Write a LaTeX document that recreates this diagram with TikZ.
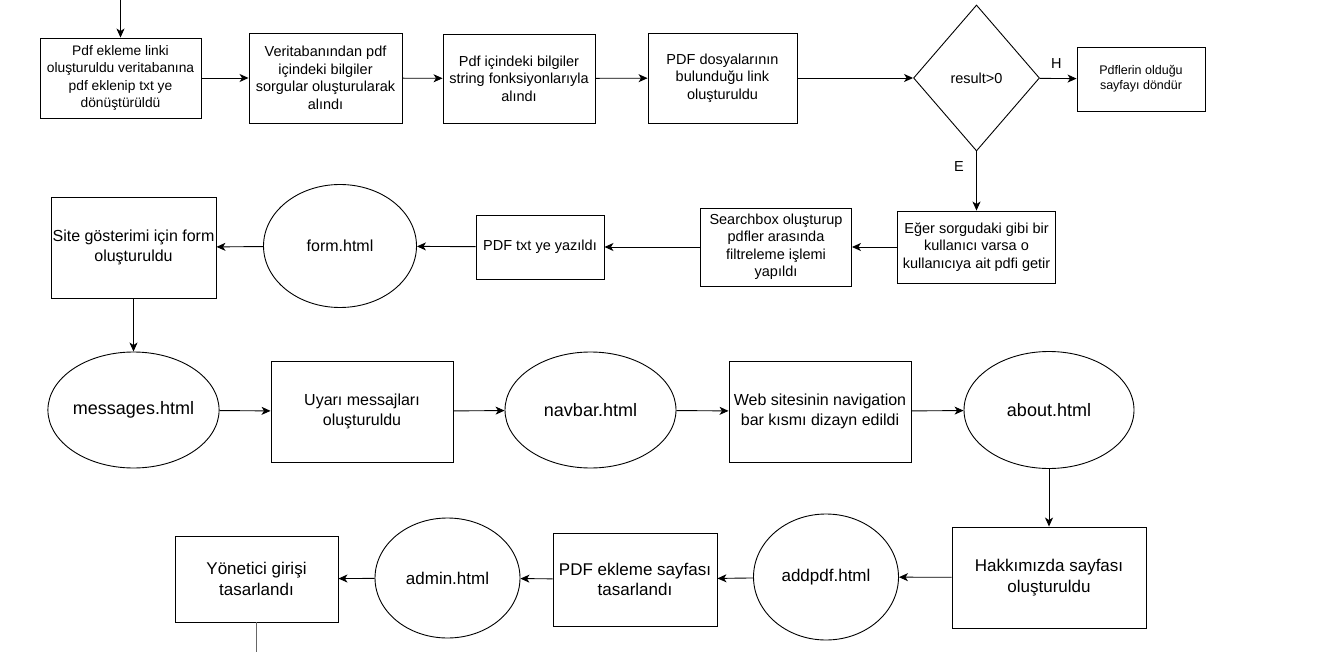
\documentclass[tikz,border=0pt]{standalone}
\usepackage{fontspec}
\setmainfont{Liberation Sans}
\usetikzlibrary{arrows.meta, positioning, shapes.geometric}

\begin{document}
\begin{tikzpicture}[
   x=1pt, y=-1pt,
   -{Stealth[length=9pt, width=8pt, inset=2.5pt]},
   line width=0.9pt,
   box/.style = {draw, rectangle, align=center, inner sep=0pt},
   page/.style = {draw, ellipse, align=center, inner sep=0pt},
   cond/.style = {draw, diamond, align=center, inner sep=0pt},
   fsmall/.style = {font=\fontsize{12.5}{15}\selectfont},
   fnarrow/.style = {font=\fontsize{13.8}{17.5}\selectfont},
   frow/.style = {font=\fontsize{14.5}{17.5}\selectfont},
   fmid/.style = {font=\fontsize{16}{19.5}\selectfont},
   fbig/.style = {font=\fontsize{17}{20.5}\selectfont},
   fhtml/.style = {font=\fontsize{18}{21.5}\selectfont}]
   \useasboundingbox (0,0) rectangle (1319,652);

   \coordinate (top) at (120.5,0);
   \node[box, fnarrow, minimum width=161, minimum height=80] (ekle) at (120.5,78) {Pdf ekleme linki\\oluşturuldu veritabanına\\pdf eklenip txt ye\\dönüştürüldü};
   \node[box, frow, minimum width=153, minimum height=90] (veri) at (325.5,78) {Veritabanından pdf\\içindeki bilgiler\\sorgular oluşturularak\\alındı};
   \node[box, frow, minimum width=152, minimum height=89] (string) at (519,78.5) {Pdf içindeki bilgiler\\string fonksiyonlarıyla\\alındı};
   \node[box, frow, minimum width=149, minimum height=90] (link) at (722.5,78) {PDF dosyalarının\\bulunduğu link\\oluşturuldu};
   \node[cond, frow, minimum width=126, minimum height=146] (result) at (976.5,78) {result>0};
   \node[box, fsmall, minimum width=128, minimum height=64] (donder) at (1141,79) {Pdflerin olduğu\\sayfayı döndür};

   \node[box, frow, minimum width=158, minimum height=72] (getir) at (976.5,247) {Eğer sorgudaki gibi bir\\kullanıcı varsa o\\kullanıcıya ait pdfi getir};
   \node[box, frow, minimum width=151, minimum height=78] (search) at (776,247) {Searchbox oluşturup\\pdfler arasında\\filtreleme işlemi\\yapıldı};
   \node[box, frow, minimum width=128, minimum height=64] (yaz) at (540,247) {PDF txt ye yazıldı};
   \node[page, fmid, minimum width=153, minimum height=123] (formh) at (340,246) {form.html};
   \node[box, fmid, minimum width=165, minimum height=101] (site) at (133.5,247.5) {Site gösterimi için form\\oluşturuldu};

   \node[page, fhtml, minimum width=171, minimum height=116] (messages) at (133.5,410) {messages.html};
   \node[box, fmid, minimum width=182, minimum height=101] (uyari) at (362,411.5) {Uyarı messajları\\oluşturuldu};
   \node[page, fhtml, minimum width=171, minimum height=116] (navbar) at (590.5,410) {navbar.html};
   \node[box, fmid, minimum width=182, minimum height=101] (nav) at (820,411.5) {Web sitesinin navigation\\bar kısmı dizayn edildi};
   \node[page, fhtml, minimum width=170, minimum height=117] (about) at (1049,410) {about.html};

   \node[box, fbig, minimum width=194, minimum height=101] (hakkimizda) at (1049,577.5) {Hakkımızda sayfası\\oluşturuldu};
   \node[page, fbig, minimum width=145, minimum height=126] (addpdf) at (826,577) {addpdf.html};
   \node[box, fbig, minimum width=164, minimum height=93] (eklesayfa) at (635,579.5) {PDF ekleme sayfası\\tasarlandı};
   \node[page, fbig, minimum width=145, minimum height=120] (admin) at (447.5,578) {admin.html};
   \node[box, fbig, minimum width=163, minimum height=86] (yonetici) at (256.5,579) {Yönetici girişi\\tasarlandı};
   \coordinate (bottom) at (256.5,652);

   \draw (top) -- (ekle);
   \draw (ekle) -- (veri);
   \draw (veri) -- (string);
   \draw (string) -- (link);
   \draw (link) -- (result);
   \draw (result) -- node[frow, above=6pt, pos=0.45]{H} (donder);
   \draw (result) -- node[frow, left=9pt, pos=0.25]{E} (getir);

   \draw (getir) -- (search);
   \draw (search) -- (yaz);
   \draw (yaz) -- (formh);
   \draw (formh) -- (site);
   \draw (site) -- (messages);

   \draw (messages) -- (uyari);
   \draw (uyari) -- (navbar);
   \draw (navbar) -- (nav);
   \draw (nav) -- (about);
   \draw (about) -- (hakkimizda);

   \draw (hakkimizda) -- (addpdf);
   \draw (addpdf) -- (eklesayfa);
   \draw (eklesayfa) -- (admin);
   \draw (admin) -- (yonetici);
   \draw[-, black!60] (yonetici) -- (bottom);
\end{tikzpicture}
\end{document}
